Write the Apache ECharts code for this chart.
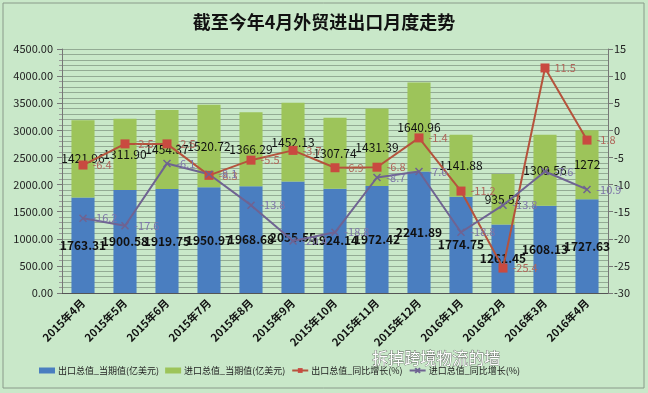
<!DOCTYPE html>
<html><head><meta charset="utf-8">
<script src="https://cdn.jsdelivr.net/npm/echarts@6/dist/echarts.min.js"></script>
<style>html,body{margin:0;padding:0;background:#c9e8c9;}#c{width:648px;height:393px;}</style>
</head><body><div id="c"></div>
<script>
const categories = ['2015年4月','2015年5月','2015年6月','2015年7月','2015年8月','2015年9月','2015年10月','2015年11月','2015年12月','2016年1月','2016年2月','2016年3月','2016年4月'];
const exportValue = [1763.31,1900.58,1919.75,1950.97,1968.68,2055.55,1924.14,1972.42,2241.89,1774.75,1261.45,1608.13,1727.63];
const importValue = [1421.96,1311.90,1454.37,1520.72,1366.29,1452.13,1307.74,1431.39,1640.96,1141.88,935.52,1309.56,1272];
const exportYoY = [-6.4,-2.5,-2.5,-8.3,-5.5,-3.7,-6.9,-6.8,-1.4,-11.2,-25.4,11.5,-1.8];
const importYoY = [-16.2,-17.6,-6.1,-8.1,-13.8,-20.4,-18.8,-8.7,-7.6,-18.8,-13.8,-7.6,-10.9];
const leftTicks = {min:0,max:4500,interval:500};
const rightTicks = {min:-30,max:15,interval:5};

const fmt = v => Number.isInteger(v) ? String(v) : v.toFixed(2);
const chart = echarts.init(document.getElementById('c'));
const font = '"Noto Sans CJK SC","DejaVu Sans",sans-serif';
chart.setOption({
  backgroundColor:'#c9e8c9',
  animation:false,
  textStyle:{fontFamily:font},
  title:{text:'截至今年4月外贸进出口月度走势',left:'center',top:8,
    textStyle:{fontSize:18,fontWeight:'bold',color:'#111',fontFamily:font}},
  graphic:[
    {type:'rect',shape:{x:3,y:3,width:641,height:385},style:{fill:'none',stroke:'#8a9a8a',lineWidth:1},silent:true},
    {type:'text',left:372,top:350,z:100,style:{text:'拆掉跨境物流的墙',fontSize:16,fill:'#ffffff',stroke:'#555',lineWidth:0.7,fontFamily:font}}
  ],
  legend:{bottom:13,left:34,itemGap:6,itemWidth:16,itemHeight:6,
    textStyle:{fontSize:9,color:'#222',fontFamily:font,padding:[0,0,0,-2]},
    data:[{name:'出口总值_当期值(亿美元)',icon:'rect'},{name:'进口总值_当期值(亿美元)',icon:'rect'},'出口总值_同比增长(%)','进口总值_同比增长(%)']},
  grid:{left:62,right:40,top:49,bottom:100},
  xAxis:{type:'category',data:categories,
    axisLine:{lineStyle:{color:'#555'}},axisTick:{show:false},
    axisLabel:{rotate:45,fontSize:11,fontWeight:'bold',color:'#111',margin:8,interval:0}},
  yAxis:[
    {type:'value',min:leftTicks.min,max:leftTicks.max,interval:leftTicks.interval,
     axisLine:{show:true,lineStyle:{color:'#777'}},axisTick:{show:true,length:5,lineStyle:{color:'#777'}},
     minorTick:{show:true,splitNumber:5,length:3,lineStyle:{color:'#999'}},
     splitLine:{show:true,lineStyle:{color:'#93ab94',width:1}},
     minorSplitLine:{show:true,lineStyle:{color:'#93ab94',width:1}},
     axisLabel:{fontSize:11,color:'#222',formatter:v=>v.toFixed(2),margin:9}},
    {type:'value',min:rightTicks.min,max:rightTicks.max,interval:rightTicks.interval,
     axisLine:{show:true,lineStyle:{color:'#777'}},axisTick:{show:true,length:5,lineStyle:{color:'#777'}},
     splitLine:{show:false},
     axisLabel:{fontSize:11,color:'#222',margin:6}}
  ],
  series:[
    {name:'出口总值_当期值(亿美元)',type:'bar',stack:'t',data:exportValue,barWidth:'55%',
     itemStyle:{color:'#4a7ec0'},
     label:{show:true,position:'inside',fontSize:12,fontWeight:'bold',color:'#111',formatter:p=>fmt(p.value)}},
    {name:'进口总值_当期值(亿美元)',type:'bar',stack:'t',data:importValue,barWidth:'55%',
     itemStyle:{color:'#9dc45a'},
     label:{show:true,position:'inside',fontSize:12,color:'#111',formatter:p=>fmt(p.value)}},
    {name:'出口总值_同比增长(%)',type:'line',yAxisIndex:1,data:exportYoY,
     symbol:'rect',symbolSize:9,lineStyle:{color:'#b5533c',width:2},itemStyle:{color:'#c94a40'},
     label:{show:true,position:'right',fontSize:11,color:'#b0665a'}},
    {name:'进口总值_同比增长(%)',type:'line',yAxisIndex:1,data:importYoY,
     symbol:'path://M0,0L10,10M10,0L0,10',symbolSize:7,lineStyle:{color:'#6f6392',width:2},itemStyle:{color:'#6f6392',borderColor:'#6f6392',borderWidth:1.5},
     label:{show:true,position:'right',fontSize:11,color:'#7d74a8'}}
  ]
});
</script></body></html>
